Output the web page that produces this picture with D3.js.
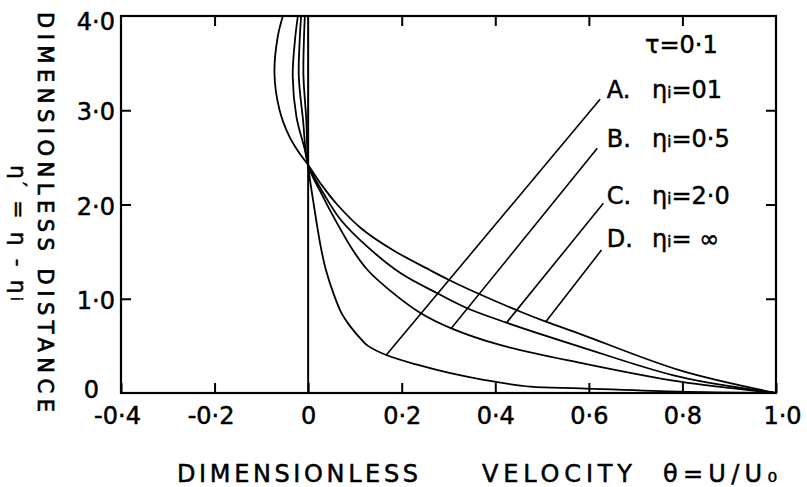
<!DOCTYPE html>
<html><head><meta charset="utf-8">
<script src="https://cdn.jsdelivr.net/npm/d3@7"></script>
<style>
body{margin:0;background:#fff}
svg{display:block}
text{font-family:"DejaVu Sans",sans-serif;fill:#000}
</style>
</head><body>
<svg id="chart" width="807" height="487"></svg>
<script>
// ---- data ----
const xTicks = [-0.4, -0.2, 0, 0.2, 0.4, 0.6, 0.8, 1.0];
const xTickLabels = ["-0·4", "-0·2", "0", "0·2", "0·4", "0·6", "0·8", "1·0"];
const yTicks = [0, 1, 2, 3, 4];
const yTickLabels = ["0", "1·0", "2·0", "3·0", "4·0"];

const seriesKeys = ["A.", "B.", "C.", "D."];
const seriesValues = ["=01", "=0·5", "=2·0", "= ∞"];
const tauLabel = "τ=0·1";

// curve A : ηi = 0.1
const etaA   = [4.0, 3.75, 3.36, 2.9, 2.42, 2.0, 1.75, 1.55, 1.305, 1.03, 0.85, 0.72, 0.56, 0.50, 0.403, 0.30, 0.21, 0.14, 0.067, 0.05, 0.014, 0];
const thetaA = [-0.007, -0.009, -0.010, -0.004, 0.0, 0.012, 0.02, 0.027, 0.038, 0.056, 0.071, 0.088, 0.115, 0.128, 0.167, 0.233, 0.304, 0.375, 0.475, 0.582, 0.795, 1.0];
// curve B : ηi = 0.5
const etaB   = [4.0, 3.75, 3.36, 2.9, 2.42, 2.1, 1.80, 1.52, 1.305, 1.10, 0.846, 0.686, 0.51, 0.32, 0.12, 0];
const thetaB = [-0.015, -0.018, -0.020, -0.011, 0.0, 0.030, 0.062, 0.095, 0.127, 0.172, 0.241, 0.306, 0.41, 0.582, 0.795, 1.0];
// curve C : ηi = 2.0
const etaC   = [4.0, 3.75, 3.36, 2.93, 2.58, 2.42, 2.1, 1.835, 1.55, 1.27, 1.058, 0.899, 0.746, 0.49, 0.17, 0];
const thetaC = [-0.022, -0.028, -0.033, -0.025, -0.007, 0.0, 0.035, 0.070, 0.127, 0.198, 0.276, 0.340, 0.424, 0.582, 0.795, 1.0];
// curve D : ηi = ∞
const etaD   = [4.0, 3.78, 3.39, 3.0, 2.72, 2.54, 2.42, 2.2, 2.0, 1.74, 1.52, 1.305, 1.207, 1.058, 0.87, 0.757, 0.62, 0.24, 0];
const thetaD = [-0.054, -0.065, -0.072, -0.061, -0.040, -0.018, 0.0, 0.030, 0.062, 0.115, 0.18, 0.26, 0.298, 0.362, 0.450, 0.508, 0.585, 0.795, 1.0];

// leader lines: start near label, end on curve
const leaderStartTheta = [0.624, 0.618, 0.631, 0.627];
const leaderStartEta   = [3.116, 2.596, 2.013, 1.517];
const leaderEndTheta   = [0.167, 0.306, 0.424, 0.508];
const leaderEndEta     = [0.403, 0.686, 0.746, 0.757];

// ---- layout ----
const svg = d3.select("#chart");
const x = d3.scaleLinear().domain([-0.4, 1.0]).range([121, 776]);
const y = d3.scaleLinear().domain([0, 4]).range([393, 16]);
const FS = 24;

// frame
svg.append("rect")
  .attr("x", x(-0.4)).attr("y", y(4))
  .attr("width", x(1.0) - x(-0.4)).attr("height", y(0) - y(4))
  .attr("fill", "none").attr("stroke", "#000").attr("stroke-width", 2.2);

function styleAxis(g, showLabels) {
  g.select(".domain").remove();
  g.selectAll(".tick line").attr("stroke", "#000").attr("stroke-width", 2);
  g.selectAll(".tick text")
    .attr("font-family", "'DejaVu Sans', sans-serif")
    .attr("font-size", FS)
    .attr("fill", "#000")
    .attr("stroke", "#000").attr("stroke-width", 0.5);
  if (!showLabels) g.selectAll(".tick text").remove();
}

// bottom axis
svg.append("g").attr("transform", `translate(0,${y(0)})`)
  .call(d3.axisBottom(x).tickValues(xTicks).tickSizeInner(-10).tickSizeOuter(0)
    .tickPadding(14).tickFormat((d, i) => xTickLabels[i]))
  .call(g => styleAxis(g, true))
  .call(g => g.selectAll(".tick text").attr("dx", d => d < 0 ? -4 : (d === 1 ? 6 : 0)));

// top axis
svg.append("g").attr("transform", `translate(0,${y(4)})`)
  .call(d3.axisTop(x).tickValues(xTicks.filter(d => d > -0.4 && d < 1 && d !== 0)).tickSizeInner(-10).tickSizeOuter(0))
  .call(g => styleAxis(g, false));

// left axis
svg.append("g").attr("transform", `translate(${x(-0.4)},0)`)
  .call(d3.axisLeft(y).tickValues(yTicks).tickSizeInner(-10).tickSizeOuter(0)
    .tickPadding(6).tickFormat((d, i) => yTickLabels[i]))
  .call(g => styleAxis(g, true))
  .call(g => g.selectAll(".tick line").filter(d => d === 0 || d === 4).remove())
  .call(g => g.selectAll(".tick text")
    .attr("dx", d => d === 0 ? -16 : 0)
    .attr("dy", d => d === 4 ? "0.55em" : (d === 0 ? "0.2em" : "0.4em")));

// right axis
svg.append("g").attr("transform", `translate(${x(1.0)},0)`)
  .call(d3.axisRight(y).tickValues(yTicks.filter(d => d > 0 && d < 4)).tickSizeInner(-10).tickSizeOuter(0))
  .call(g => styleAxis(g, false));

// zero line
svg.append("line")
  .attr("x1", x(0)).attr("x2", x(0)).attr("y1", y(0)).attr("y2", y(4))
  .attr("stroke", "#000").attr("stroke-width", 2);

// curves
const curves = [[thetaA, etaA], [thetaB, etaB], [thetaC, etaC], [thetaD, etaD]];
const line = d3.line().x(d => x(d[0])).y(d => y(d[1])).curve(d3.curveCatmullRom.alpha(0.5));
curves.forEach(([th, et]) => {
  svg.append("path")
    .attr("d", line(th.map((t, i) => [t, et[i]])))
    .attr("fill", "none").attr("stroke", "#000").attr("stroke-width", 1.8);
});

// leaders
leaderStartTheta.forEach((t, i) => {
  svg.append("line")
    .attr("x1", x(t)).attr("y1", y(leaderStartEta[i]))
    .attr("x2", x(leaderEndTheta[i])).attr("y2", y(leaderEndEta[i]))
    .attr("stroke", "#000").attr("stroke-width", 1.6);
});

// legend labels
const labelBase = [3.13, 2.61, 2.005, 1.55];
seriesKeys.forEach((k, i) => {
  const t = svg.append("text")
    .attr("x", x(0.6385)).attr("y", y(labelBase[i]))
    .attr("font-size", FS).attr("stroke", "#000").attr("stroke-width", 0.5);
  t.append("tspan").text(k);
  t.append("tspan").attr("x", x(0.735)).text("η");
  t.append("tspan").attr("font-size", 15).text("i");
  t.append("tspan").text(seriesValues[i]);
});
svg.append("text")
  .attr("x", x(0.72)).attr("y", y(3.61))
  .attr("font-size", FS).attr("stroke", "#000").attr("stroke-width", 0.5)
  .text(tauLabel);

// axis titles
const xt = svg.append("g").attr("font-size", FS);
[["DIMENSIONLESS", 177, 241], ["VELOCITY", 482, 150], ["θ=U/U₀", 663, 114]].forEach(([s, px, w]) => {
  xt.append("text").attr("x", px).attr("y", 482)
    .attr("textLength", w).attr("lengthAdjust", "spacing")
    .attr("stroke", "#000").attr("stroke-width", 0.5)
    .text(s);
});

svg.append("text")
  .attr("transform", "translate(38,12) rotate(90)")
  .attr("font-size", 21)
  .attr("textLength", 400).attr("lengthAdjust", "spacing")
  .attr("stroke", "#000").attr("stroke-width", 0.7)
  .text("DIMENSIONLESS DISTANCE");

const yt2 = svg.append("text")
  .attr("transform", "translate(11,165) rotate(90)")
  .attr("font-size", 22)
  .attr("textLength", 136).attr("lengthAdjust", "spacing")
  .attr("stroke", "#000").attr("stroke-width", 0.5);
yt2.append("tspan").text("η′ = η - η");
yt2.append("tspan").attr("font-size", 15).text("i");
</script>
</body></html>
